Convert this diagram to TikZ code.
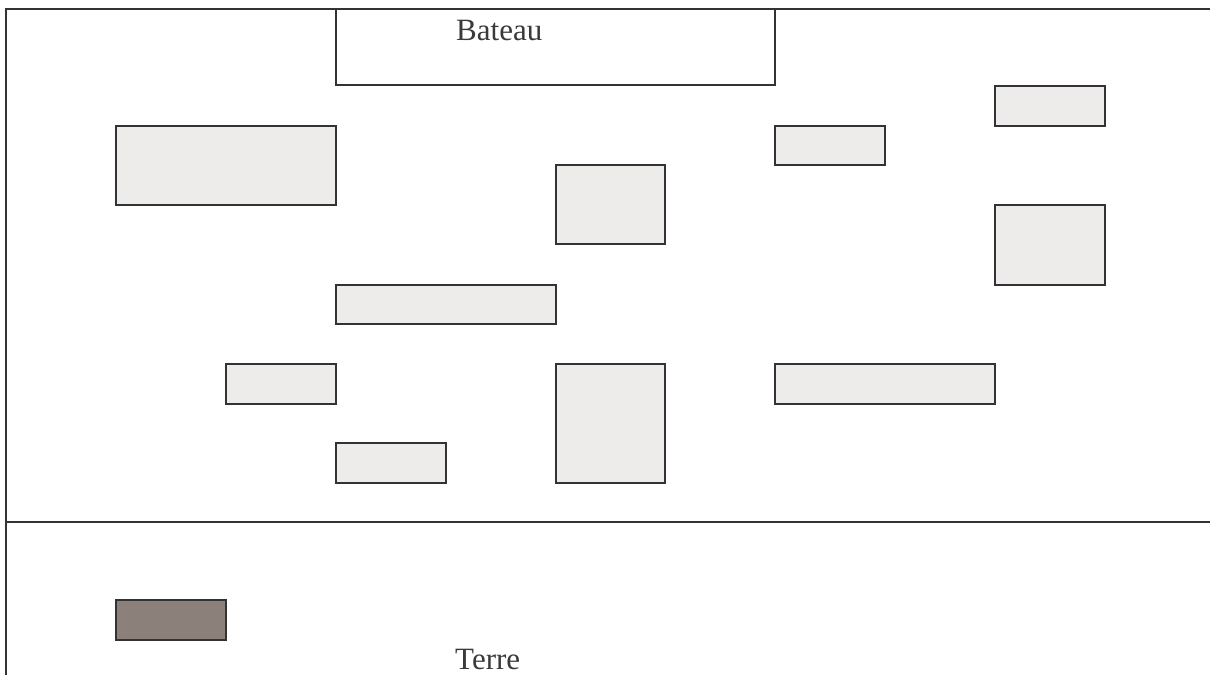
\documentclass[tikz,border=0pt]{standalone}
\usepackage{fontspec}
\setmainfont{Liberation Serif}
\definecolor{linec}{HTML}{333336}
\definecolor{boxfill}{HTML}{EDECEA}
\definecolor{brownfill}{HTML}{8C807B}
\definecolor{textc}{HTML}{3A3A3C}
\begin{document}
\begin{tikzpicture}[x=1pt,y=-1pt,
  frame/.style={draw=linec,line width=2.2pt},
  gbox/.style={draw=linec,fill=boxfill,line width=2.2pt,inner sep=0pt,outer sep=0pt},
  bbox/.style={draw=linec,fill=brownfill,line width=2.2pt,inner sep=0pt,outer sep=0pt},
  wbox/.style={draw=linec,fill=white,line width=2.2pt,inner sep=0pt,outer sep=0pt},
  lbl/.style={text=textc,inner sep=0pt,font=\fontsize{31}{36}\selectfont}]
\useasboundingbox (0,0) rectangle (1210,675);
% frame lines
\coordinate (tl) at (6,9);
\coordinate (tr) at (1210,9);
\coordinate (bl) at (6,675);
\coordinate (ml) at (6,522);
\coordinate (mr) at (1210,522);
\draw[frame] (tr) -- (tl) -- (bl);
\draw[frame] (ml) -- (mr);
% Bateau box
\node[wbox,minimum width=439pt,minimum height=76pt] (bateau) at (555.5,47) {};
\node[lbl,anchor=base west] (bateauTxt) at (456,40) {Bateau};
% grey boxes
\node[gbox,minimum width=220pt,minimum height=79pt] (b1) at (226,165.5) {};
\node[gbox,minimum width=109pt,minimum height=79pt] (b2) at (610.5,204.5) {};
\node[gbox,minimum width=110pt,minimum height=39pt] (b3) at (830,145.5) {};
\node[gbox,minimum width=110pt,minimum height=40pt] (b4) at (1050,106) {};
\node[gbox,minimum width=110pt,minimum height=80pt] (b5) at (1050,245) {};
\node[gbox,minimum width=220pt,minimum height=39pt] (b6) at (446,304.5) {};
\node[gbox,minimum width=110pt,minimum height=40pt] (b7) at (281,384) {};
\node[gbox,minimum width=109pt,minimum height=119pt] (b8) at (610.5,423.5) {};
\node[gbox,minimum width=220pt,minimum height=40pt] (b9) at (885,384) {};
\node[gbox,minimum width=110pt,minimum height=40pt] (b10) at (391,463) {};
% brown box
\node[bbox,minimum width=110pt,minimum height=40pt] (brown) at (171,620) {};
\node[lbl,anchor=base west] (terre) at (455,669) {Terre};
\end{tikzpicture}
\end{document}
